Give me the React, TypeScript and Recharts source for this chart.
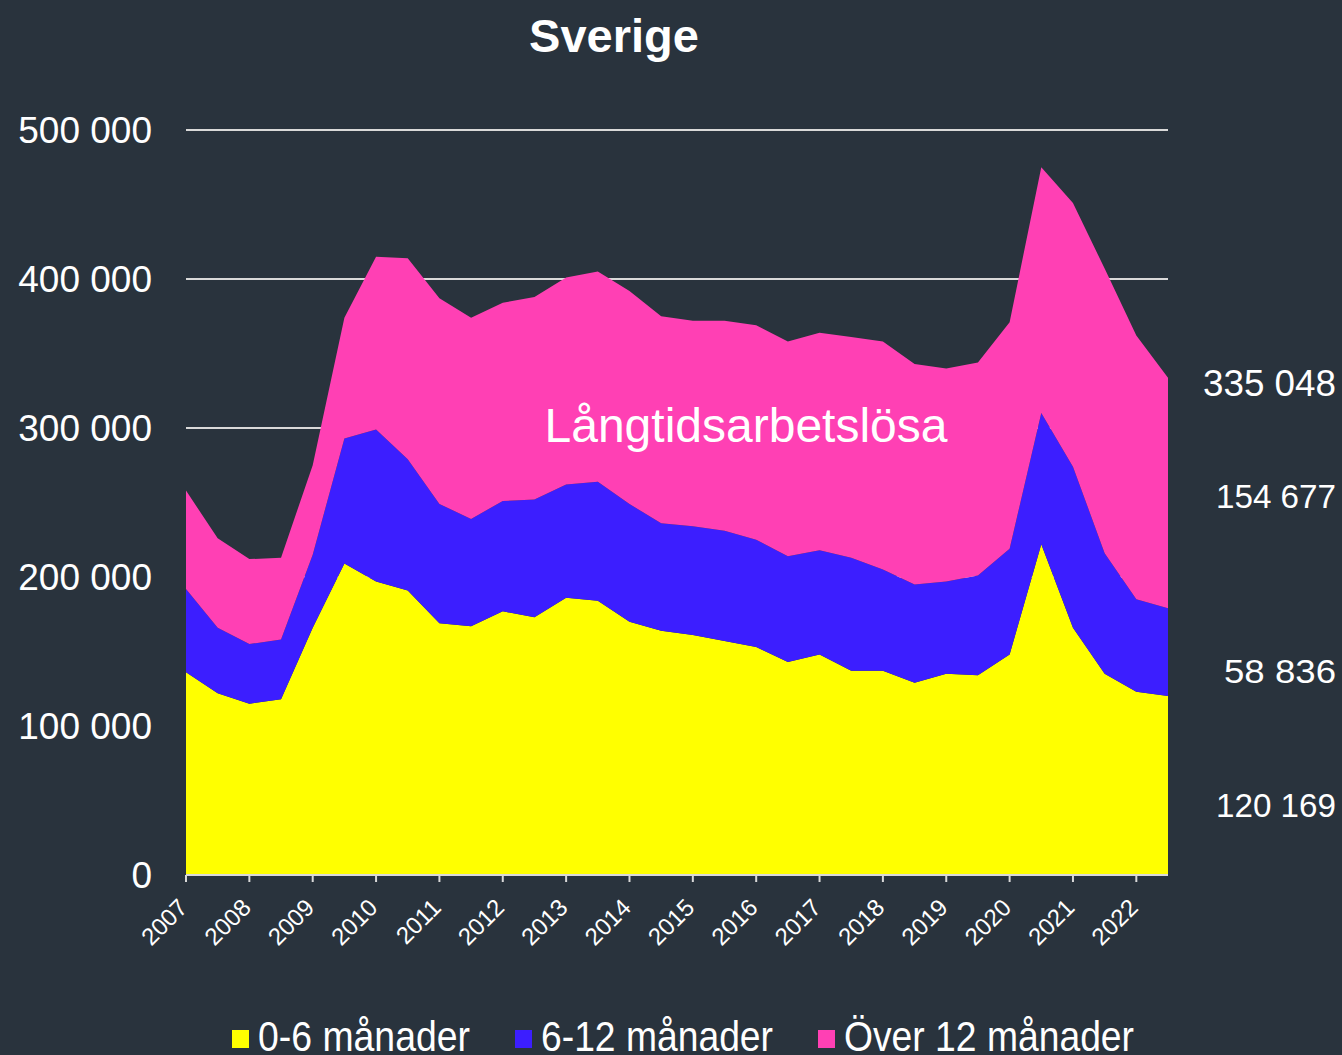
import React from 'react';
import { AreaChart, Area, XAxis, YAxis, CartesianGrid } from 'recharts';

// halvårsperioder 2007 - 2022
const periods = [
  '2007', '2007 H2', '2008', '2008 H2', '2009', '2009 H2', '2010', '2010 H2',
  '2011', '2011 H2', '2012', '2012 H2', '2013', '2013 H2', '2014', '2014 H2',
  '2015', '2015 H2', '2016', '2016 H2', '2017', '2017 H2', '2018', '2018 H2',
  '2019', '2019 H2', '2020', '2020 H2', '2021', '2021 H2', '2022', '2022 H2',
];

// 0-6 månader
const short = [
  136000, 122000, 115000, 118000, 166000, 209000, 197000, 191000,
  169000, 167000, 177000, 173000, 186000, 184000, 170000, 164000,
  161000, 157000, 153000, 143000, 148000, 137000, 137000, 129000,
  135000, 134000, 148000, 222000, 166000, 135000, 123000, 120169,
];

// 6-12 månader
const mid = [
  56000, 44000, 40000, 40000, 49000, 84000, 102000, 88000,
  80000, 72000, 74000, 79000, 76000, 80000, 79000, 72000,
  73000, 74000, 72000, 71000, 70000, 76000, 68000, 66000,
  62000, 67000, 71000, 88000, 108000, 81000, 62000, 58836,
];

// över 12 månader
const long = [
  66000, 60000, 57000, 55000, 60000, 81000, 116000, 135000,
  138000, 135000, 133000, 136000, 139000, 141000, 143000, 139000,
  138000, 141000, 144000, 144000, 146000, 148000, 153000, 148000,
  143000, 143000, 152000, 165000, 177000, 191000, 177000, 154677,
];

const yTicks = [0, 100000, 200000, 300000, 400000, 500000];

const endLabels = [
  { text: '335 048', y: 396, size: 37, w: 133 },
  { text: '154 677', y: 508, size: 33, w: 120 },
  { text: '58 836', y: 683, size: 33, w: 112 },
  { text: '120 169', y: 817, size: 33, w: 120 },
];

const legendItems = [
  { name: '0-6 månader', color: '#FFFF00', x: 232, w: 212 },
  { name: '6-12 månader', color: '#3C1EFF', x: 515, w: 232 },
  { name: 'Över 12 månader', color: '#FF40B4', x: 818, w: 290 },
];

const data = periods.map((p, i) => ({
  period: p,
  short: short[i],
  mid: mid[i],
  long: long[i],
}));

const FONT = '"Liberation Sans", Arial, sans-serif';
const BG = '#29333d';

const fmt = (v: number) => (v === 0 ? '0' : `${v / 1000} 000`);

const YearTick = (props: any) => {
  const { x, y, payload } = props;
  const tx = x + 3;
  const ty = y + 25;
  return (
    <text
      x={tx}
      y={ty}
      transform={`rotate(-45 ${tx} ${ty})`}
      textAnchor="end"
      fill="#ffffff"
      fontSize={24}
      fontFamily={FONT}
    >
      {payload.value.slice(0, 4)}
    </text>
  );
};

export default function App() {
  return (
    <div
      style={{
        position: 'absolute',
        left: 0,
        top: 0,
        width: 1342,
        height: 1055,
        background: BG,
        overflow: 'hidden',
        fontFamily: FONT,
      }}
    >
      <AreaChart
        width={1342}
        height={1055}
        data={data}
        margin={{ top: 130, right: 174, bottom: 80, left: 16 }}
      >
        <CartesianGrid vertical={false} stroke="#d9d9d9" strokeWidth={2} />
        <XAxis
          dataKey="period"
          interval={1}
          height={100}
          axisLine={{ stroke: '#d9d9d9', strokeWidth: 2 }}
          tickLine={{ stroke: '#d9d9d9', strokeWidth: 2 }}
          tickSize={7}
          tick={<YearTick />}
        />
        <YAxis
          width={170}
          domain={[0, 500000]}
          ticks={yTicks}
          axisLine={false}
          tickLine={false}
          tickMargin={28}
          tickFormatter={fmt}
          tick={{ fill: '#ffffff', fontSize: 37, fontFamily: FONT }}
        />
        <Area type="linear" dataKey="short" stackId="1" stroke="none" fill="#FFFF00" fillOpacity={1} isAnimationActive={false} />
        <Area type="linear" dataKey="mid" stackId="1" stroke="none" fill="#3C1EFF" fillOpacity={1} isAnimationActive={false} />
        <Area type="linear" dataKey="long" stackId="1" stroke="none" fill="#FF40B4" fillOpacity={1} isAnimationActive={false} />
      </AreaChart>

      <svg
        width={1342}
        height={1055}
        style={{ position: 'absolute', left: 0, top: 0, pointerEvents: 'none' }}
      >
        <text x={614} y={52} textAnchor="middle" fill="#ffffff" fontSize={47} fontWeight="bold" fontFamily={FONT}>
          Sverige
        </text>
        <text x={746} y={442} textAnchor="middle" fill="#ffffff" fontSize={48} fontFamily={FONT}>
          Långtidsarbetslösa
        </text>
        {endLabels.map((l) => (
          <text
            key={l.text}
            x={1336}
            y={l.y}
            textAnchor="end"
            fill="#ffffff"
            fontSize={l.size}
            fontFamily={FONT}
            textLength={l.w}
            lengthAdjust="spacingAndGlyphs"
          >
            {l.text}
          </text>
        ))}
        {legendItems.map((it) => (
          <g key={it.name}>
            <rect x={it.x} y={1030} width={17} height={18} fill={it.color} />
            <text
              x={it.x + 26}
              y={1051}
              fill="#ffffff"
              fontSize={43}
              fontFamily={FONT}
              textLength={it.w}
              lengthAdjust="spacingAndGlyphs"
            >
              {it.name}
            </text>
          </g>
        ))}
      </svg>
    </div>
  );
}
